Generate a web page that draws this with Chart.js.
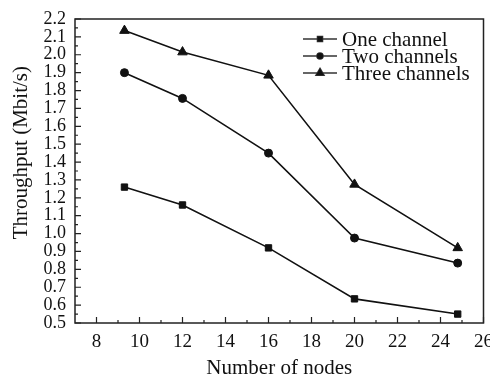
<!DOCTYPE html>
<html>
<head>
<meta charset="utf-8">
<script src="https://cdn.jsdelivr.net/npm/chart.js@4"></script>
<style>
  html, body { margin: 0; padding: 0; background: #fff; }
  #wrap { width: 490px; height: 381px; }
</style>
</head>
<body>
<div id="wrap"><canvas id="chart" width="490" height="381"></canvas></div>
<script>
// Throughput vs number of nodes
const nodes = [9.3, 12, 16, 20, 24.8];
const oneChannel = [1.26, 1.16, 0.92, 0.635, 0.55];
const twoChannels = [1.90, 1.756, 1.45, 0.975, 0.835];
const threeChannels = [2.135, 2.015, 1.885, 1.275, 0.92];
const seriesNames = ['One channel', 'Two channels', 'Three channels'];
const xTicks = [8, 10, 12, 14, 16, 18, 20, 22, 24, 26];
const xMinorTicks = [9, 11, 13, 15, 17, 19, 21, 23, 25];
const yTicks = [0.5, 0.6, 0.7, 0.8, 0.9, 1.0, 1.1, 1.2, 1.3, 1.4, 1.5, 1.6, 1.7, 1.8, 1.9, 2.0, 2.1, 2.2];

const FONT = '"Liberation Serif", "DejaVu Serif", serif';

function toPoints(ys) {
    return nodes.map((x, i) => ({ x, y: ys[i] }));
}

function makeSet(label, ys, style, radius) {
    return {
        label,
        data: toPoints(ys),
        borderColor: '#111',
        backgroundColor: '#111',
        borderWidth: 1.6,
        pointStyle: style,
        pointRadius: radius,
        pointBorderWidth: 1,
        tension: 0
    };
}

// inward tick marks + boxed frame
const frameTicks = {
    id: 'frameTicks',
    afterDraw(chart) {
        const { ctx, chartArea: a, scales } = chart;
        ctx.save();
        ctx.strokeStyle = '#222';
        ctx.lineWidth = 1.5;
        ctx.strokeRect(a.left, a.top, a.right - a.left, a.bottom - a.top);
        ctx.lineWidth = 1.2;
        ctx.beginPath();
        xTicks.forEach(v => {
            const px = scales.x.getPixelForValue(v);
            ctx.moveTo(px, a.bottom);
            ctx.lineTo(px, a.bottom - 6);
        });
        xMinorTicks.forEach(v => {
            const px = scales.x.getPixelForValue(v);
            ctx.moveTo(px, a.bottom);
            ctx.lineTo(px, a.bottom - 3);
        });
        yTicks.forEach((v, i) => {
            const py = scales.y.getPixelForValue(v);
            ctx.moveTo(a.left, py);
            ctx.lineTo(a.left + 6, py);
            if (i < yTicks.length - 1) {
                const pm = scales.y.getPixelForValue((v + yTicks[i + 1]) / 2);
                ctx.moveTo(a.left, pm);
                ctx.lineTo(a.left + 3, pm);
            }
        });
        ctx.stroke();
        ctx.restore();
    }
};

// legend drawn inside the plot: line sample + marker + text
const innerLegend = {
    id: 'innerLegend',
    afterDraw(chart) {
        const { ctx } = chart;
        const x0 = 303, x1 = 337, textX = 342;
        const rows = [39, 56, 73];
        ctx.save();
        ctx.font = '21px ' + FONT;
        ctx.textBaseline = 'middle';
        ctx.fillStyle = '#111';
        chart.data.datasets.forEach((ds, i) => {
            const y = rows[i];
            ctx.strokeStyle = '#333';
            ctx.lineWidth = 1.6;
            ctx.beginPath();
            ctx.moveTo(x0, y);
            ctx.lineTo(x1, y);
            ctx.stroke();
            Chart.helpers.drawPoint(ctx, {
                pointStyle: ds.pointStyle,
                radius: ds.pointRadius - 1,
                borderWidth: 1
            }, (x0 + x1) / 2, y);
            ctx.fill();
            ctx.fillText(ds.label, textX, y + 1);
        });
        ctx.restore();
    }
};

const ctx = document.getElementById('chart').getContext('2d');
new Chart(ctx, {
    type: 'line',
    data: {
        datasets: [
            makeSet(seriesNames[0], oneChannel, 'rect', 4.5),
            makeSet(seriesNames[1], twoChannels, 'circle', 4),
            makeSet(seriesNames[2], threeChannels, 'triangle', 5.5)
        ]
    },
    options: {
        responsive: false,
        animation: false,
        devicePixelRatio: 1,
        layout: { padding: { top: 19, right: 4, left: 0, bottom: 0 } },
        plugins: {
            legend: { display: false },
            tooltip: { enabled: false }
        },
        scales: {
            x: {
                type: 'linear',
                min: 7,
                max: 26,
                afterBuildTicks: s => { s.ticks = xTicks.map(v => ({ value: v })); },
                afterFit: s => { s.height = 58; s.paddingLeft = 0; s.paddingRight = 0; },
                grid: { display: false, drawTicks: false },
                border: { display: false },
                ticks: {
                    color: '#111',
                    font: { family: FONT, size: 19 },
                    padding: 8,
                    autoSkip: false,
                    maxRotation: 0,
                    callback: v => String(v)
                },
                title: {
                    display: true,
                    text: 'Number of nodes',
                    color: '#111',
                    font: { family: FONT, size: 21 },
                    padding: { top: 0, bottom: 0 }
                }
            },
            y: {
                type: 'linear',
                min: 0.5,
                max: 2.2,
                afterBuildTicks: s => { s.ticks = yTicks.map(v => ({ value: v })); },
                afterFit: s => { s.width = 75; s.paddingTop = 0; s.paddingBottom = 0; },
                grid: { display: false, drawTicks: false },
                border: { display: false },
                ticks: {
                    color: '#111',
                    font: { family: FONT, size: 18, lineHeight: 1 },
                    padding: 9,
                    autoSkip: false,
                    callback: v => Number(v).toFixed(1)
                },
                title: {
                    display: true,
                    // leading spaces nudge the rotated title upward like the original
                    text: '       Throughput (Mbit/s)',
                    color: '#111',
                    font: { family: FONT, size: 21 },
                    padding: { top: 9, bottom: 0 }
                }
            }
        }
    },
    plugins: [frameTicks, innerLegend]
});
</script>
</body>
</html>
